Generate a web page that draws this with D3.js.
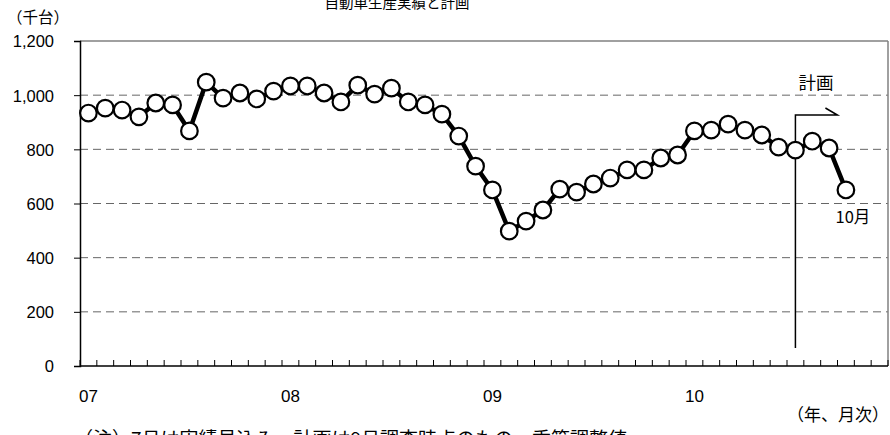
<!DOCTYPE html>
<html>
<head>
<meta charset="utf-8">
<script src="https://cdn.jsdelivr.net/npm/d3@7/dist/d3.min.js"></script>
<style>
body{margin:0;background:#fff;}
svg text{font-family:"Liberation Sans","Noto Sans CJK JP",Arial,sans-serif;fill:#000;}
svg text.jp{font-family:"Noto Sans CJK JP","Liberation Sans",sans-serif;}
</style>
</head>
<body>
<svg id="c" width="890" height="435"></svg>
<script>
// ---- data ----
const title = "自動車生産実績と計画";
const unitLabel = "（千台）";
const xUnitLabel = "（年、月次）";
const note = "（注）7月は実績見込み、計画は9月調査時点のもの。季節調整値";
const planLabel = "計画";
const lastLabel = "10月";
const yTicks = [0, 200, 400, 600, 800, 1000, 1200];
const yearLabels = ["07", "08", "09", "10"];
const monthCount = 48; // Jan 2007 - Dec 2010
const production = [934, 952, 945, 920, 971, 964, 868, 1048, 989, 1008, 986, 1015,
                    1034, 1034, 1008, 975, 1037, 1004, 1026, 975, 964, 930, 849, 738,
                    650, 498, 535, 576, 653, 642, 672, 694, 724, 724, 768, 779,
                    868, 871, 893, 871, 853, 808, 797, 830, 805, 650];
const planStartIndex = 42; // Jul 2010

// ---- layout ----
const svg = d3.select("#c");
const L = 80, R = 888, T = 41, B = 366;
const x = d3.scaleBand().domain(d3.range(monthCount)).range([L, R]);
const y = d3.scaleLinear().domain([0, 1200]).range([B, T]);
const cx = i => x(i) + x.bandwidth() / 2;

// gridlines
svg.append("g").selectAll("line").data(yTicks.filter(v => v > 0 && v < 1200)).join("line")
  .attr("x1", L).attr("x2", R).attr("y1", d => y(d)).attr("y2", d => y(d))
  .attr("stroke", "#666").attr("stroke-width", 1).attr("stroke-dasharray", "8,5");

// top / right border
svg.append("line").attr("x1", L).attr("x2", R).attr("y1", y(1200)).attr("y2", y(1200))
  .attr("stroke", "#808080").attr("stroke-width", 1.5);
svg.append("line").attr("x1", R).attr("x2", R).attr("y1", y(1200)).attr("y2", B)
  .attr("stroke", "#808080").attr("stroke-width", 1.5);

// y axis
const yAxis = d3.axisLeft(y).tickValues(yTicks).tickSize(6).tickPadding(20)
  .tickFormat(d3.format(","));
const gy = svg.append("g").attr("transform", `translate(${L},0)`).call(yAxis);
gy.select(".domain").attr("stroke", "#000").attr("stroke-width", 1.5);
gy.selectAll(".tick line").attr("stroke", "#000");
gy.selectAll(".tick text").attr("font-size", 16.5).attr("fill", "#000").attr("dy", "0.36em");

// x axis: ticks at month boundaries (inside)
const boundaries = d3.range(monthCount + 1).map(i => i === monthCount ? R : x(i));
svg.append("g").selectAll("line").data(boundaries).join("line")
  .attr("x1", d => d).attr("x2", d => d).attr("y1", B).attr("y2", B - 6)
  .attr("stroke", "#000").attr("stroke-width", 1);
svg.append("line").attr("x1", L).attr("x2", R).attr("y1", B).attr("y2", B)
  .attr("stroke", "#000").attr("stroke-width", 1.5);
svg.append("g").selectAll("text").data(yearLabels).join("text")
  .attr("x", (d, i) => cx(i * 12)).attr("y", 402)
  .attr("text-anchor", "middle").attr("font-size", 17).text(d => d);

// plan marker
const px = cx(planStartIndex);
const py = 115;
svg.append("path")
  .attr("d", `M${px},${348}V${py}H${px + 42}L${px + 30},${py - 7}`)
  .attr("fill", "none").attr("stroke", "#000").attr("stroke-width", 1.5);
svg.append("text").attr("class", "jp").attr("x", px + 3).attr("y", 89)
  .attr("font-size", 17.5).text(planLabel);

// line
const line = d3.line().x((d, i) => cx(i)).y(d => y(d));
svg.append("path").datum(production).attr("d", line)
  .attr("fill", "none").attr("stroke", "#000").attr("stroke-width", 4.5)
  .attr("stroke-linejoin", "round");
svg.append("g").selectAll("circle").data(production).join("circle")
  .attr("cx", (d, i) => cx(i)).attr("cy", d => y(d)).attr("r", 8.3)
  .attr("fill", "#fff").attr("stroke", "#000").attr("stroke-width", 2.2);

// labels
svg.append("text").attr("class", "jp").attr("x", cx(production.length - 1) + 7).attr("y", 223)
  .attr("text-anchor", "middle").attr("font-size", 16.5).text(lastLabel);
svg.append("text").attr("class", "jp").attr("x", 397).attr("y", 8)
  .attr("text-anchor", "middle").attr("font-size", 14.5).text(title);
svg.append("text").attr("class", "jp").attr("x", 7).attr("y", 23)
  .attr("font-size", 15.5).text(unitLabel);
svg.append("text").attr("class", "jp").attr("x", 889).attr("y", 421)
  .attr("text-anchor", "end").attr("font-size", 17).text(xUnitLabel);
svg.append("text").attr("class", "jp").attr("x", 74).attr("y", 446)
  .attr("font-size", 19).text(note);
</script>
</body>
</html>
